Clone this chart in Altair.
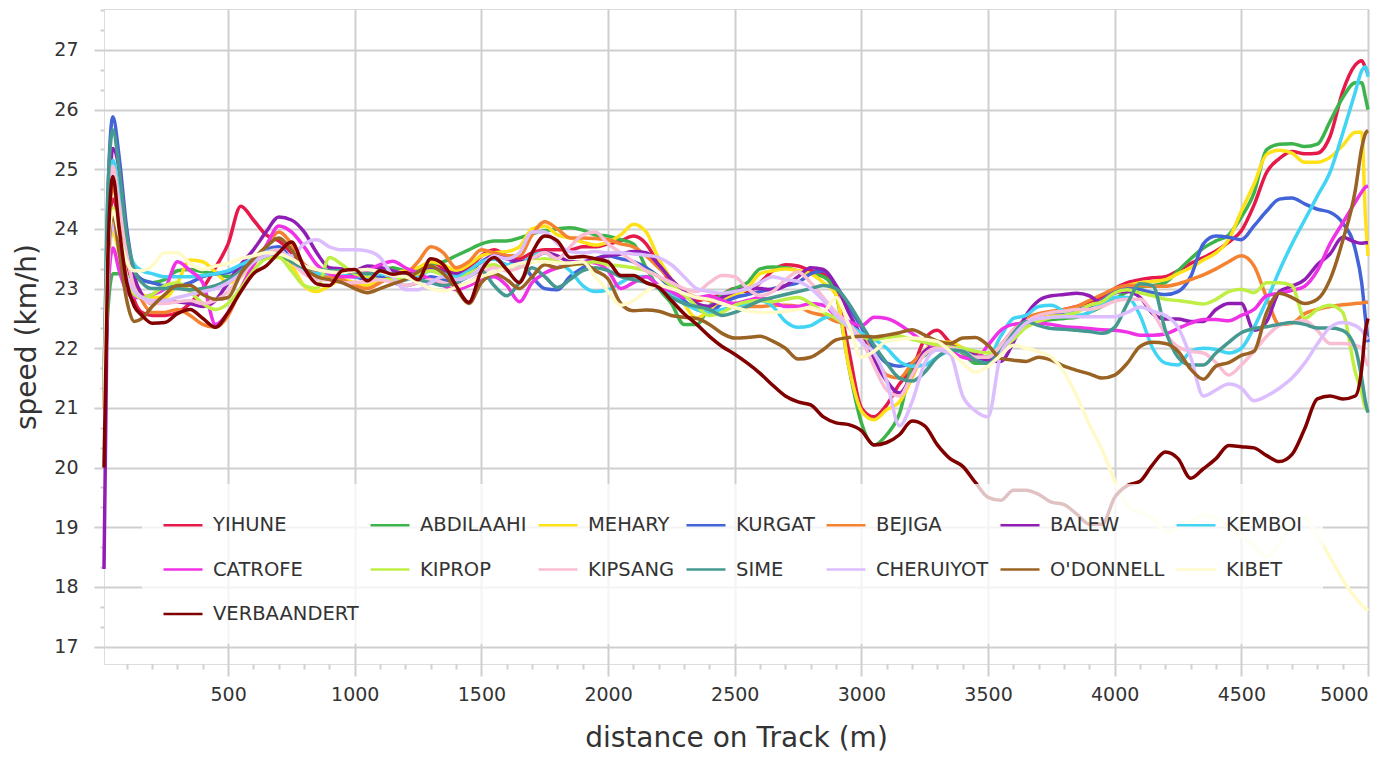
import altair as alt
import pandas as pd

# distance on track (m) at which speeds were read
distance = [10, 25, 45, 70, 100, 130, 160, 200] + list(range(250, 4701, 50)) + [4750, 4800, 4850, 4900, 4950, 4975, 4990, 5000]

runners = ["YIHUNE", "ABDILAAHI", "MEHARY", "KURGAT", "BEJIGA", "BALEW", "KEMBOI",
           "CATROFE", "KIPROP", "KIPSANG", "SIME", "CHERUIYOT", "O'DONNELL", "KIBET",
           "VERBAANDERT"]
colors = ["#e6194b", "#3cb44b", "#ffe119", "#4363d8", "#f58231", "#911eb4", "#42d4f4",
          "#f032e6", "#bfef45", "#fabed4", "#469990", "#dcbeff", "#9a6324", "#fffac8",
          "#800000"]

yihune = [21.5, 23.6, 24.5, 24.1, 23.3, 22.8, 22.6, 22.55,
          22.55, 22.6, 22.75, 23.0, 23.35, 23.75, 24.38, 24.15, 23.9, 23.8,
          23.6, 23.4, 23.3, 23.3, 23.3, 23.25, 23.3, 23.35, 23.25, 23.2,
          23.3, 23.45, 23.35, 23.3, 23.35, 23.55, 23.65, 23.55, 23.5, 23.6,
          23.65, 23.65, 23.65, 23.7, 23.7, 23.75, 23.8, 23.88, 23.75, 23.4,
          23.1, 22.95, 22.8, 22.85, 22.9, 23.0, 22.95, 23.1, 23.3, 23.4,
          23.38, 23.3, 23.25, 22.95, 21.97, 21.0, 20.85, 21.05, 21.4, 21.65,
          22.15, 22.3, 22.1, 22.0, 21.9, 21.85, 22.05, 22.3, 22.45, 22.55,
          22.6, 22.65, 22.7, 22.75, 22.85, 23.0, 23.1, 23.15, 23.18, 23.2,
          23.3, 23.42, 23.52, 23.63, 23.78, 23.97, 24.4, 24.95, 25.18, 25.3,
          25.26, 25.27, 25.55, 26.3, 26.75, 26.82, 26.7, 26.6]
abdilaahi = [21.0, 22.6, 23.25, 23.25, 23.2, 23.2, 23.15, 23.1,
             23.15, 23.3, 23.32, 23.28, 23.25, 23.2, 23.3, 23.45, 23.6, 23.55,
             23.45, 23.35, 23.3, 23.3, 23.25, 23.2, 23.25, 23.3, 23.35, 23.3,
             23.3, 23.4, 23.45, 23.55, 23.65, 23.75, 23.8, 23.8, 23.85, 23.92,
             23.97, 24.0, 24.02, 23.98, 23.9, 23.88, 23.82, 23.75, 23.35, 23.0,
             22.75, 22.4, 22.4, 22.7, 22.9, 23.0, 23.1, 23.33, 23.36, 23.35,
             23.3, 23.25, 23.2, 22.9, 21.7, 20.75, 20.38, 20.55, 20.9, 21.7,
             21.88, 22.05, 22.0, 21.92, 21.75, 21.75, 22.0, 22.25, 22.4, 22.45,
             22.48, 22.5, 22.52, 22.6, 22.7, 22.82, 22.95, 23.03, 23.05, 23.1,
             23.3, 23.5, 23.68, 23.8, 23.9, 24.2, 24.6, 25.33, 25.42, 25.43,
             25.38, 25.42, 25.8, 26.2, 26.45, 26.45, 26.2, 26.0]
mehary = [21.5, 23.3, 23.95, 23.6, 23.2, 23.0, 22.9, 22.85,
          22.85, 23.1, 23.48, 23.45, 23.28, 23.1, 23.2, 23.45, 23.6, 23.65,
          23.4, 23.05, 22.95, 23.05, 23.15, 23.1, 23.05, 23.15, 23.25, 23.3,
          23.35, 23.45, 23.4, 23.3, 23.4, 23.55, 23.6, 23.62, 23.7, 24.0,
          24.05, 23.9, 23.85, 23.78, 23.73, 23.78, 23.9, 24.08, 23.95, 23.5,
          23.15, 22.75, 22.5, 22.65, 22.8, 22.9, 23.0, 23.25, 23.3, 23.33,
          23.3, 23.25, 23.1, 22.9, 21.7, 20.95, 20.8, 20.97, 21.1, 21.5,
          21.95, 22.1, 22.1, 22.0, 21.85, 21.85, 22.05, 22.25, 22.42, 22.5,
          22.55, 22.58, 22.65, 22.72, 22.8, 22.95, 23.05, 23.1, 23.12, 23.15,
          23.25, 23.35, 23.48, 23.6, 23.82, 24.3, 24.75, 25.25, 25.32, 25.27,
          25.12, 25.12, 25.2, 25.4, 25.62, 25.62, 24.2, 23.55]
kurgat = [21.0, 24.5, 25.88, 25.2, 24.0, 23.3, 23.15, 23.1,
          23.05, 23.05, 23.1, 23.2, 23.25, 23.27, 23.35, 23.5, 23.65, 23.7,
          23.5, 23.35, 23.3, 23.3, 23.25, 23.2, 23.15, 23.2, 23.1, 23.05,
          23.1, 23.2, 23.15, 23.1, 23.25, 23.45, 23.5, 23.4, 23.45, 23.2,
          23.0, 22.98, 23.2, 23.35, 23.5, 23.55, 23.5, 23.45, 23.35, 23.2,
          23.0, 22.8, 22.65, 22.6, 22.75, 22.85, 22.9, 22.95, 23.0, 23.05,
          23.1, 23.25, 23.3, 23.05, 22.7, 22.35, 22.0, 21.75, 21.7, 21.75,
          21.95, 22.05, 22.0, 21.95, 21.85, 21.8, 22.0, 22.25, 22.45, 22.55,
          22.6, 22.6, 22.65, 22.7, 22.8, 22.95, 23.0, 22.98, 22.93, 22.9,
          22.95, 23.2, 23.75, 23.88, 23.86, 23.82, 24.05, 24.3, 24.5, 24.52,
          24.42, 24.33, 24.28, 24.1, 23.65, 23.1, 22.5, 22.1]
bejiga = [21.5, 23.8, 24.7, 24.2, 23.5, 23.1, 22.8, 22.6,
          22.6, 22.65, 22.55, 22.4, 22.35, 22.55, 23.0, 23.4, 23.7, 23.95,
          23.75, 23.4, 23.25, 23.2, 23.15, 23.05, 23.0, 23.1, 23.2, 23.25,
          23.45, 23.7, 23.6, 23.35, 23.45, 23.65, 23.6, 23.55, 23.55, 23.9,
          24.12, 24.0, 23.85, 23.85, 23.84, 23.82, 23.75, 23.7, 23.55, 23.35,
          23.15, 22.95, 22.85, 22.8, 22.75, 22.75, 22.7, 22.7, 22.72, 22.72,
          22.7, 22.6, 22.55, 22.45, 22.4, 22.2, 21.9, 21.55, 21.5, 21.75,
          21.95, 22.05, 22.02, 21.98, 21.88, 21.85, 22.05, 22.3, 22.5, 22.58,
          22.62, 22.65, 22.7, 22.8, 22.9, 23.0, 23.05, 23.05, 23.04, 23.04,
          23.08, 23.15, 23.23, 23.33, 23.45, 23.55, 23.38, 22.85, 22.4, 22.42,
          22.58, 22.65, 22.7, 22.73, 22.75, 22.76, 22.77, 22.77]
balew = [18.3, 23.5, 25.35, 25.0, 23.9, 23.2, 22.9, 22.75,
         22.8, 22.78, 22.75, 22.7, 22.8, 23.1, 23.4, 23.65, 23.95, 24.2,
         24.15, 23.95, 23.6, 23.35, 23.33, 23.3, 23.38, 23.35, 23.3, 23.25,
         23.25, 23.35, 23.3, 23.25, 23.3, 23.45, 23.55, 23.5, 23.45, 23.5,
         23.6, 23.55, 23.45, 23.45, 23.5, 23.55, 23.58, 23.62, 23.6, 23.4,
         23.15, 22.95, 22.75, 22.7, 22.85, 22.95, 23.0, 23.0, 22.98, 23.05,
         23.2, 23.35, 23.32, 23.05, 22.6, 22.2, 21.8, 21.45, 21.25, 21.55,
         21.95, 22.05, 22.05, 21.95, 21.88, 21.8, 21.78, 22.1, 22.55, 22.8,
         22.88, 22.9, 22.92, 22.88, 22.75, 22.93, 22.95, 22.85, 22.58, 22.49,
         22.49, 22.45, 22.45, 22.65, 22.75, 22.75, 22.3, 22.45, 22.95, 23.04,
         23.15, 23.4, 23.58, 23.86, 23.78, 23.76, 23.77, 23.77]
kemboi = [21.5, 24.3, 25.15, 24.6, 23.8, 23.4, 23.3, 23.25,
          23.2, 23.2, 23.2, 23.22, 23.25, 23.3, 23.4, 23.5, 23.62, 23.65,
          23.45, 23.3, 23.25, 23.25, 23.22, 23.2, 23.22, 23.25, 23.2, 23.15,
          23.2, 23.3, 23.25, 23.2, 23.3, 23.45, 23.5, 23.4, 23.4, 23.55,
          23.6, 23.45, 23.3, 23.05, 22.95, 22.98, 23.1, 23.2, 23.2, 23.05,
          22.9, 22.75, 22.65, 22.6, 22.65, 22.7, 22.75, 22.8, 22.7, 22.45,
          22.35, 22.38, 22.5, 22.55, 22.4, 22.25, 22.15, 22.0, 21.78, 21.7,
          21.72, 21.85, 21.95, 21.95, 21.85, 21.85, 22.2, 22.5, 22.55, 22.7,
          22.72, 22.62, 22.55, 22.6, 22.75, 22.85, 22.85, 22.55, 22.0, 21.75,
          21.72, 21.95, 22.0, 21.98, 21.92, 22.0, 22.35, 22.8, 23.3, 23.75,
          24.15, 24.55, 24.95, 25.6, 26.3, 26.65, 26.72, 26.55]
catrofe = [21.0, 22.9, 23.68, 23.3, 22.95, 22.85, 22.85, 22.9,
           23.0, 23.45, 23.3, 23.1, 22.4, 22.6, 23.0, 23.4, 23.72, 24.05,
           23.95, 23.7, 23.4, 23.25, 23.2, 23.2, 23.3, 23.4, 23.46, 23.35,
           23.26, 23.15, 23.05, 22.98, 23.05, 23.15, 23.2, 23.05, 22.78, 23.1,
           23.26, 23.35, 23.4, 23.45, 23.43, 23.3, 23.0, 23.1, 23.2, 23.05,
           22.95, 22.85, 22.85, 22.88, 22.8, 22.75, 22.8, 22.85, 22.78, 22.7,
           22.7, 22.75, 22.72, 22.55, 22.45, 22.38, 22.52, 22.5, 22.4, 22.25,
           22.1, 22.0, 21.95, 21.85, 21.82, 22.05, 22.3, 22.4, 22.42, 22.42,
           22.4, 22.36, 22.35, 22.33, 22.31, 22.3, 22.27, 22.22, 22.22, 22.24,
           22.33, 22.42, 22.48, 22.48, 22.46, 22.55, 22.65, 22.88, 22.92, 22.97,
           23.04, 23.3, 23.75, 24.1, 24.45, 24.62, 24.7, 24.72]
kiprop = [21.0, 23.2, 24.35, 23.9, 23.2, 22.9, 22.85, 22.9,
          23.05, 23.1, 22.95, 22.75, 22.65, 22.75, 23.0, 23.3, 23.5, 23.52,
          23.3, 23.05, 23.0, 23.52, 23.4, 23.25, 23.2, 23.15, 23.15, 23.2,
          23.25, 23.3, 23.22, 23.15, 23.25, 23.35, 23.4, 23.3, 23.35, 23.45,
          23.5, 23.45, 23.4, 23.42, 23.45, 23.4, 23.38, 23.35, 23.3, 23.2,
          23.05, 22.9, 22.7, 22.55, 22.6, 22.72, 22.78, 22.8, 22.78, 22.82,
          22.85, 22.75, 22.6, 22.5, 22.35, 22.2, 22.15, 22.18, 22.2, 22.15,
          22.1, 22.05, 22.02, 22.0, 21.95, 21.92, 22.0, 22.15, 22.35, 22.45,
          22.52, 22.55, 22.6, 22.72, 22.78, 22.93, 22.98, 22.93, 22.88, 22.82,
          22.8, 22.77, 22.74, 22.82, 22.95, 22.99, 22.93, 23.1, 23.1, 23.05,
          22.5, 22.65, 22.72, 22.6, 21.6, 21.25, 21.0, 20.95]
kipsang = [21.5, 24.1, 25.05, 24.4, 23.6, 23.0, 22.85, 22.75,
           22.75, 22.78, 22.8, 22.75, 22.8, 22.95, 23.2, 23.45, 23.6, 23.65,
           23.45, 23.25, 23.15, 23.15, 23.1, 23.1, 23.12, 23.15, 23.1, 23.05,
           23.1, 23.15, 23.1, 23.05, 23.1, 23.25, 23.35, 23.3, 23.35, 23.5,
           23.6, 23.5, 23.7, 23.9, 23.95, 23.75, 23.6, 23.45, 23.3, 23.2,
           23.1, 23.0, 22.95, 23.1, 23.22, 23.2, 23.0, 22.88, 22.95, 23.15,
           23.28, 23.1, 22.85, 22.6, 22.4, 22.15, 21.7, 21.3, 21.2, 21.55,
           21.9, 22.0, 22.0, 21.95, 21.85, 21.85, 22.05, 22.3, 22.45, 22.55,
           22.6, 22.62, 22.65, 22.65, 22.7, 22.79, 22.82, 22.82, 22.6, 22.25,
           22.02, 21.95, 21.92, 21.76, 21.55, 21.72, 21.95, 22.2, 22.38, 22.43,
           22.46, 22.3, 22.08, 22.08, 22.05, 22.0, 21.8, 21.7]
sime = [21.0, 24.6, 25.66, 25.0, 23.9, 23.3, 23.1, 23.0,
        23.0, 23.0, 22.98, 23.0, 23.05, 23.15, 23.3, 23.45, 23.55, 23.6,
        23.45, 23.35, 23.32, 23.3, 23.3, 23.28, 23.25, 23.3, 23.25, 23.2,
        23.15, 23.1, 23.05, 23.1, 23.2, 23.3, 23.05, 22.88, 23.1, 23.35,
        23.2, 23.02, 23.15, 23.3, 23.35, 23.3, 23.2, 23.15, 23.1, 23.0,
        22.85, 22.75, 22.7, 22.65, 22.55, 22.6, 22.7, 22.8, 22.85, 22.9,
        22.95, 23.0, 23.05, 23.0, 22.75, 22.4, 22.05, 21.75, 21.5, 21.45,
        21.6, 21.85, 21.97, 21.95, 21.8, 21.75, 21.95, 22.25, 22.45, 22.38,
        22.33, 22.32, 22.3, 22.28, 22.25, 22.35, 22.75, 23.08, 23.05, 22.3,
        21.85, 21.72, 21.72, 21.92, 22.1, 22.26, 22.33, 22.36, 22.4, 22.43,
        22.4, 22.34, 22.34, 22.3, 22.0, 21.5, 21.1, 20.92]
cheruiyot = [21.0, 23.2, 24.05, 23.7, 23.2, 22.95, 22.85, 22.8,
             22.8, 22.85, 22.9, 22.95, 23.0, 23.1, 23.25, 23.45, 23.55, 23.6,
             23.55, 23.75, 23.82, 23.7, 23.65, 23.65, 23.63, 23.52, 23.2, 22.98,
             22.98, 23.1, 23.2, 23.15, 23.2, 23.35, 23.55, 23.5, 23.6, 23.95,
             23.95, 23.75, 23.62, 23.6, 23.62, 23.6, 23.6, 23.58, 23.56, 23.52,
             23.4, 23.2, 23.0, 22.95, 22.92, 22.95, 23.0, 23.1, 23.2, 23.15,
             23.12, 23.0, 22.8, 22.55, 22.35, 22.1, 21.92, 21.45, 20.7, 21.1,
             21.75, 21.97, 21.9, 21.2, 20.95, 20.85, 21.9, 22.2, 22.42, 22.5,
             22.52, 22.53, 22.53, 22.53, 22.53, 22.53, 22.6, 22.69, 22.62, 22.55,
             22.35, 21.85, 21.2, 21.3, 21.4, 21.33, 21.12, 21.2, 21.33, 21.5,
             21.75, 22.07, 22.35, 22.43, 22.38, 22.3, 22.2, 22.15]
odonnell = [21.0, 23.4, 24.24, 23.6, 22.8, 22.45, 22.5, 22.7,
            22.9, 23.05, 23.05, 22.9, 22.82, 22.85, 23.25, 23.5, 23.7, 23.85,
            23.65, 23.35, 23.2, 23.15, 23.1, 23.0, 22.93, 23.0, 23.08, 23.15,
            23.28, 23.38, 23.25, 23.0, 22.75, 23.1, 23.25, 23.15, 23.0, 23.2,
            23.4, 23.35, 23.4, 23.42, 23.3, 23.16, 22.75, 22.63, 22.64, 22.62,
            22.55, 22.52, 22.5, 22.4, 22.25, 22.17, 22.18, 22.2, 22.12, 22.0,
            21.82, 21.85, 21.98, 22.14, 22.18, 22.2, 22.19, 22.22, 22.26, 22.31,
            22.22, 22.12, 22.08, 22.17, 22.18, 22.05, 21.83, 21.8, 21.78, 21.85,
            21.8, 21.7, 21.63, 21.57, 21.5, 21.55, 21.75, 22.03, 22.1, 22.08,
            21.95, 21.65, 21.48, 21.7, 21.76, 21.88, 21.95, 22.6, 22.92, 22.85,
            22.75, 22.82, 23.15, 23.8, 24.65, 25.35, 25.6, 25.65]
kibet = [21.0, 23.6, 24.3, 23.9, 23.45, 23.3, 23.3, 23.38,
         23.6, 23.6, 23.42, 23.32, 23.38, 23.42, 23.5, 23.55, 23.6, 23.58,
         23.5, 23.38, 23.32, 23.28, 23.27, 23.3, 23.32, 23.28, 23.22, 23.2,
         23.1, 23.0, 22.96, 23.02, 23.1, 23.2, 23.27, 23.35, 23.42, 23.45,
         23.45, 23.43, 23.43, 23.45, 23.2, 22.95, 22.72, 22.8, 22.95, 23.05,
         23.0, 22.92, 22.85, 22.82, 22.75, 22.68, 22.63, 22.6, 22.6, 22.62,
         22.65, 22.68, 22.62, 22.85, 22.4, 21.85, 21.95, 22.12, 22.15, 22.17,
         22.15, 22.11, 21.95, 21.75, 21.6, 21.7, 21.88, 22.05, 22.0, 21.94,
         21.85, 21.6, 21.2, 20.72, 20.3, 19.78, 19.35, 19.25, 19.15, 18.92,
         18.98, 19.1, 19.2, 19.15, 19.0, 18.85, 18.7, 18.5, 18.72, 19.1,
         19.15, 18.85, 18.5, 18.12, 17.82, 17.7, 17.64, 17.6]
verbaandert = [20.0, 23.5, 24.88, 24.0, 23.1, 22.7, 22.55, 22.42,
               22.43, 22.58, 22.65, 22.5, 22.35, 22.6, 22.95, 23.25, 23.38, 23.6,
               23.78, 23.35, 23.08, 23.05, 23.3, 23.32, 23.13, 23.3, 23.24, 23.27,
               23.15, 23.5, 23.4, 23.05, 22.77, 23.3, 23.52, 23.32, 23.1, 23.6,
               23.88, 23.8, 23.52, 23.54, 23.5, 23.45, 23.22, 23.22, 23.1, 23.02,
               22.8, 22.58, 22.4, 22.2, 22.03, 21.9, 21.75, 21.58, 21.38, 21.2,
               21.1, 21.05, 20.85, 20.75, 20.72, 20.62, 20.38, 20.42, 20.55, 20.78,
               20.7, 20.38, 20.15, 20.02, 19.75, 19.5, 19.45, 19.62, 19.62, 19.55,
               19.42, 19.38, 19.22, 19.05, 19.05, 19.5, 19.7, 19.77, 20.05, 20.26,
               20.15, 19.82, 19.98, 20.15, 20.37, 20.35, 20.33, 20.2, 20.1, 20.22,
               20.65, 21.15, 21.2, 21.15, 21.2, 21.65, 22.3, 22.5]

series = [yihune, abdilaahi, mehary, kurgat, bejiga, balew, kemboi, catrofe,
          kiprop, kipsang, sime, cheruiyot, odonnell, kibet, verbaandert]

y_ticks = [17, 18, 19, 20, 21, 22, 23, 24, 25, 26, 27]
x_ticks = [500, 1000, 1500, 2000, 2500, 3000, 3500, 4000, 4500, 5000]
x_minor = [v for v in range(100, 5000, 100) if v % 500 != 0]
y_minor = [round(v + f, 4) for v in range(16, 28) for f in (1 / 3, 2 / 3) if 16.71 < v + f < 27.69]

rows = []
for name, vals in zip(runners, series):
    assert len(vals) == len(distance), (name, len(vals))
    for d, s in zip(distance, vals):
        rows.append({"runner": name, "distance": d, "speed": s})
df = pd.DataFrame(rows)

FONT = "DejaVu Sans"
GRID = "#cfcfcf"
xscale = alt.Scale(domain=[10, 5000], nice=False, zero=False)
yscale = alt.Scale(domain=[16.707, 27.687], nice=False, zero=False)

lines = alt.Chart(df).mark_line(strokeWidth=3.5, interpolate="monotone").encode(
    x=alt.X("distance:Q", scale=xscale,
            axis=alt.Axis(values=x_ticks, title="distance on Track (m)", orient="bottom",
                          grid=True, gridColor=GRID, gridWidth=2, domain=False,
                          tickSize=12, tickColor=GRID, tickWidth=2,
                          labelFont=FONT, labelFontSize=19, labelColor="#333333",
                          labelPadding=9, labelFlush=True, format="d",
                          titleFont=FONT, titleFontSize=28, titleFontWeight="normal",
                          titleColor="#333333", titlePadding=20)),
    y=alt.Y("speed:Q", scale=yscale,
            axis=alt.Axis(values=y_ticks, title="speed (km/h)", orient="left",
                          grid=True, gridColor=GRID, gridWidth=2, domain=False,
                          tickSize=10, tickColor=GRID, tickWidth=2,
                          labelFont=FONT, labelFontSize=19, labelColor="#333333",
                          labelPadding=16, labelFlush=False, format="d",
                          titleFont=FONT, titleFontSize=28, titleFontWeight="normal",
                          titleColor="#333333", titlePadding=12)),
    color=alt.Color("runner:N", sort=runners,
                    scale=alt.Scale(domain=runners, range=colors),
                    legend=alt.Legend(title=None, orient="none", legendX=38, legendY=475,
                                      direction="horizontal", columns=7,
                                      symbolType="stroke", symbolSize=1521,
                                      symbolStrokeWidth=2.5,
                                      labelFont=FONT, labelFontSize=19.5,
                                      labelColor="#333333", labelOffset=9,
                                      labelLimit=300,
                                      columnPadding=6, rowPadding=13.5, padding=20,
                                      fillColor="rgba(255,255,255,0.76)")),
)

minor = alt.Chart(df).mark_line(opacity=0).encode(
    x=alt.X("distance:Q", scale=xscale,
            axis=alt.Axis(values=x_minor, labels=False, grid=False, domain=False,
                          tickSize=5, tickColor=GRID, tickWidth=2, title=None,
                          orient="bottom")),
    y=alt.Y("speed:Q", scale=yscale,
            axis=alt.Axis(values=y_minor, labels=False, grid=False, domain=False,
                          tickSize=4, tickColor=GRID, tickWidth=2, title=None,
                          orient="left")),
    detail="runner:N",
)

chart = alt.layer(minor, lines).resolve_axis(x="independent", y="independent").properties(
    width=1264, height=655,
    autosize=alt.AutoSizeParams(type="none"),
    padding={"left": 96, "top": 1, "right": 15, "bottom": 88},
).configure_view(stroke="#c8c8c8", strokeWidth=3).configure(background="white")

chart.save("out.html", embed_options={"renderer": "svg", "actions": False})
